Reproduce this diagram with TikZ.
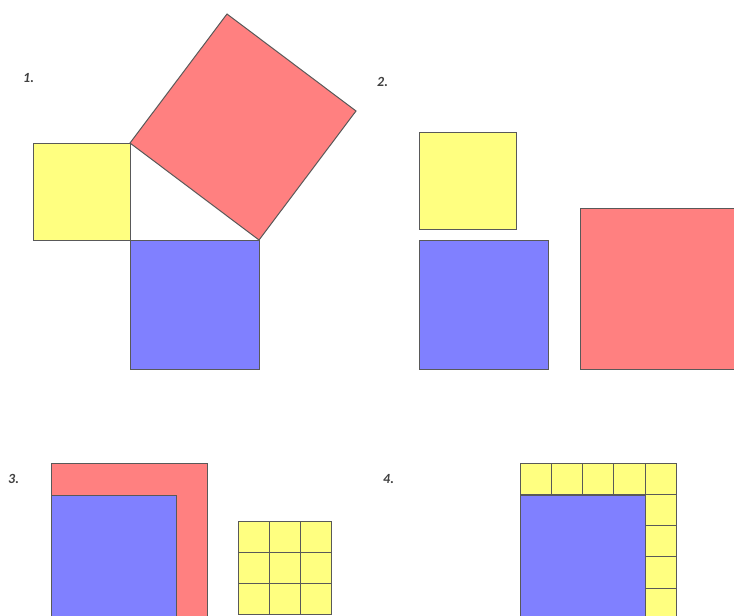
\documentclass[tikz,border=0pt]{standalone}
\usepackage{fontspec}
\setmainfont{Carlito}
\usetikzlibrary{positioning}
\definecolor{sqred}{HTML}{FF8080}
\definecolor{sqblue}{HTML}{8080FF}
\definecolor{sqyellow}{HTML}{FFFF80}

\begin{document}
\begin{tikzpicture}[
  x=1pt, y=-1pt,
  sq/.style={draw=black!65, line width=1pt},
  tag/.style={font=\fontsize{14}{16}\selectfont\itshape\bfseries, text=black!75,
    anchor=base west, inner sep=0pt},
]
  \useasboundingbox (0,0) rectangle (734,616);
  \clip (0,0) rectangle (734,616);

  % 1. squares on the sides of the 3-4-5 triangle
  \node[tag] (tag1) at (23,82) {1.};
  \draw[sq, fill=sqyellow] (33,143) rectangle (130,240);
  \draw[sq, fill=sqblue] (130,240) rectangle (259,369);
  \draw[sq, fill=sqred] (130,143) -- (259,240) -- (356,111) -- (227,14) -- cycle;

  % 2. the three squares side by side
  \node[tag] (tag2) at (377,86) {2.};
  \draw[sq, fill=sqyellow] (419,132) rectangle (516,229);
  \draw[sq, fill=sqblue] (419,240) rectangle (548,369);
  \draw[sq, fill=sqred] (580,208) rectangle (741,369);

  % 3. red square minus blue square, and the 3x3 yellow grid
  \def\cell{31.33}
  \node[tag] (tag3) at (8,483) {3.};
  \draw[sq, fill=sqred] (51,463) rectangle ++(5*\cell,5*\cell);
  \draw[sq, fill=sqblue] (51,495) rectangle ++(4*\cell,4*\cell);
  \foreach \i in {0,1,2}
    \foreach \j in {0,1,2}
      \draw[sq, fill=sqyellow] ({238+\i*\cell},{521+\j*\cell}) rectangle ++(\cell,\cell);

  % 4. the yellow cells laid round the blue square
  \node[tag] (tag4) at (383,483) {4.};
  \draw[sq, fill=sqblue] (520,495) rectangle ++(4*\cell,4*\cell);
  \foreach \i in {0,...,4}
    \draw[sq, fill=sqyellow] ({520+\i*\cell},463) rectangle ++(\cell,\cell);
  \foreach \j in {1,...,4}
    \draw[sq, fill=sqyellow] ({520+4*\cell},{463+\j*\cell}) rectangle ++(\cell,\cell);
\end{tikzpicture}
\end{document}
